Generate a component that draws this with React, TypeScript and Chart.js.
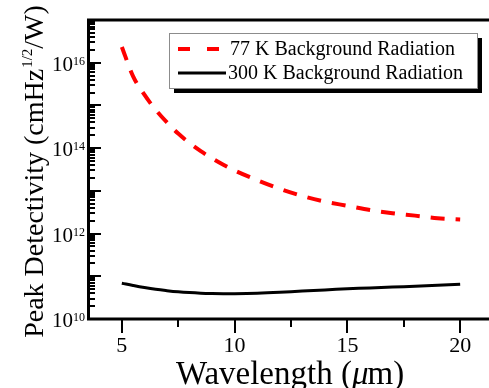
import React, { useEffect, useRef } from "react";
import { Chart, registerables } from "chart.js";

Chart.register(...registerables);

// ---- data ----
const wavelengths = [5, 5.5, 6, 6.5, 7, 7.5, 8, 8.5, 9, 9.5, 10, 11, 12, 13, 14, 15, 16, 17, 18, 19, 20];
const detectivity77K = [
  2.34e16, 4.8e15, 1.78e15, 7.9e14, 4.0e14, 2.19e14, 1.32e14, 8.5e13, 5.75e13, 4.07e13, 3.0e13,
  1.78e13, 1.12e13, 7.6e12, 5.6e12, 4.47e12, 3.55e12, 3.0e12, 2.63e12, 2.29e12, 2.14e12,
];
const detectivity300K = [
  6.9e10, 6.1e10, 5.45e10, 4.95e10, 4.6e10, 4.33e10, 4.15e10, 4.03e10, 3.96e10, 3.92e10, 3.92e10,
  4.02e10, 4.22e10, 4.5e10, 4.8e10, 5.08e10, 5.35e10, 5.6e10, 5.85e10, 6.15e10, 6.55e10,
];
const seriesLabels = ["77 K Background Radiation", "300 K Background Radiation"];
const xMajorTicks = [5, 10, 15, 20];
const xTickLabels = ["5", "10", "15", "20"];
const xMinorTicks = [7.5, 12.5, 17.5];
const yDecades = [10, 11, 12, 13, 14, 15, 16, 17];
const yLabelExponents = [10, 12, 14, 16];
const xTitle = ["Wavelength (", "\u03bc", "m)"];
const yTitle = ["Peak Detectivity (cmHz", "1/2", "/W)"];

const SERIF = '"Liberation Serif", "DejaVu Serif", serif';

const axesPlugin = {
  id: "customAxes",
  afterDraw(chart: any) {
    const { ctx, chartArea: a, scales } = chart;
    const xs = scales.x;
    const ys = scales.y;
    ctx.save();
    ctx.strokeStyle = "#000";
    ctx.fillStyle = "#000";
    ctx.setLineDash([]);

    // frame (left, bottom, top)
    ctx.lineWidth = 3;
    ctx.beginPath();
    ctx.moveTo(a.left + 0.5, a.top - 1.5);
    ctx.lineTo(a.left + 0.5, a.bottom + 1.5);
    ctx.moveTo(a.left - 1, a.bottom);
    ctx.lineTo(a.right + 10, a.bottom);
    ctx.moveTo(a.left - 1, a.top);
    ctx.lineTo(a.right + 10, a.top);
    ctx.stroke();

    // y ticks (inward)
    ctx.lineWidth = 2;
    ctx.beginPath();
    for (const d of yDecades) {
      const y = Math.round(ys.getPixelForValue(Math.pow(10, d)));
      if (d < 17) {
        ctx.moveTo(a.left, y);
        ctx.lineTo(a.left + 13, y);
        for (let m = 2; m <= 9; m++) {
          const ym = Math.round(ys.getPixelForValue(m * Math.pow(10, d)));
          ctx.moveTo(a.left, ym);
          ctx.lineTo(a.left + 7, ym);
        }
      }
    }
    ctx.stroke();

    // y labels 10^n
    for (const e of yLabelExponents) {
      const y = ys.getPixelForValue(Math.pow(10, e));
      ctx.font = `12px ${SERIF}`;
      const sup = String(e);
      const sw = ctx.measureText(sup).width;
      ctx.font = `21px ${SERIF}`;
      const bw = ctx.measureText("10").width;
      const right = a.left - 3;
      ctx.textAlign = "left";
      ctx.textBaseline = "alphabetic";
      ctx.fillText("10", right - sw - bw, y + 8);
      ctx.font = `12px ${SERIF}`;
      ctx.fillText(sup, right - sw, y + 2);
    }

    // x ticks (outward)
    ctx.lineWidth = 2;
    ctx.beginPath();
    for (const v of xMajorTicks) {
      const x = Math.round(xs.getPixelForValue(v));
      ctx.moveTo(x, a.bottom);
      ctx.lineTo(x, a.bottom + 14);
    }
    for (const v of xMinorTicks) {
      const x = Math.round(xs.getPixelForValue(v));
      ctx.moveTo(x, a.bottom);
      ctx.lineTo(x, a.bottom + 8);
    }
    ctx.stroke();

    ctx.font = `22px ${SERIF}`;
    ctx.textAlign = "center";
    ctx.textBaseline = "alphabetic";
    xMajorTicks.forEach((v, i) => {
      ctx.fillText(xTickLabels[i], xs.getPixelForValue(v), a.bottom + 33);
    });

    // x title
    ctx.textAlign = "left";
    const fN = `33px ${SERIF}`;
    const fI = `italic 33px ${SERIF}`;
    ctx.font = fN;
    const w0 = ctx.measureText(xTitle[0]).width;
    const w2 = ctx.measureText(xTitle[2]).width;
    ctx.font = fI;
    const w1 = ctx.measureText(xTitle[1]).width;
    const tw = w0 + w1 + w2;
    const x0 = 290.5 - tw / 2;
    const by = 384;
    ctx.font = fN;
    ctx.fillText(xTitle[0], x0, by);
    ctx.font = fI;
    ctx.fillText(xTitle[1], x0 + w0, by);
    ctx.font = fN;
    ctx.fillText(xTitle[2], x0 + w0 + w1 - 1, by);

    // y title (rotated)
    ctx.save();
    ctx.translate(43, 172);
    ctx.rotate(-Math.PI / 2);
    const yN = `28px ${SERIF}`;
    const yS = `15px ${SERIF}`;
    ctx.font = yN;
    const a0 = ctx.measureText(yTitle[0]).width;
    const a2 = ctx.measureText(yTitle[2]).width;
    ctx.font = yS;
    const a1 = ctx.measureText(yTitle[1]).width;
    const sx = -(a0 + a1 + a2) / 2;
    ctx.font = yN;
    ctx.fillText(yTitle[0], sx, 0);
    ctx.font = yS;
    ctx.fillText(yTitle[1], sx + a0 + 1, -11);
    ctx.font = yN;
    ctx.fillText(yTitle[2], sx + a0 + a1 + 1, 0);
    ctx.restore();

    // legend
    const ds = chart.data.datasets;
    const lx = 169, ly = 33, lw = 308, lh = 55;
    ctx.fillStyle = "#000";
    ctx.fillRect(lx + 5, ly + 5, lw, lh);
    ctx.fillStyle = "#fff";
    ctx.fillRect(lx, ly, lw, lh);
    ctx.strokeStyle = "#8c8c8c";
    ctx.lineWidth = 1;
    ctx.strokeRect(lx + 0.5, ly + 0.5, lw, lh);

    const rows = [49, 73];
    ds.forEach((d: any, i: number) => {
      const ry = rows[i];
      ctx.strokeStyle = d.borderColor;
      ctx.lineWidth = d.borderWidth;
      ctx.setLineDash(i === 0 ? [12, 17] : []);
      ctx.beginPath();
      ctx.moveTo(178, ry);
      ctx.lineTo(i === 0 ? 221 : 226, ry);
      ctx.stroke();
      ctx.setLineDash([]);
      ctx.fillStyle = "#000";
      ctx.font = `20px ${SERIF}`;
      ctx.textAlign = "left";
      ctx.textBaseline = "middle";
      ctx.fillText(d.label, i === 0 ? 230 : 228, ry + 1);
    });

    ctx.restore();
  },
};

export default function App() {
  const canvasRef = useRef<HTMLCanvasElement | null>(null);

  useEffect(() => {
    const canvas = canvasRef.current;
    if (!canvas) return;
    const chart = new Chart(canvas, {
      type: "line",
      data: {
        labels: wavelengths,
        datasets: [
          {
            label: seriesLabels[0],
            data: wavelengths.map((w, i) => ({ x: w, y: detectivity77K[i] })),
            borderColor: "#ff0000",
            borderWidth: 4,
            borderDash: [14, 11],
            borderCapStyle: "butt",
            pointRadius: 0,
            cubicInterpolationMode: "monotone",
            fill: false,
          },
          {
            label: seriesLabels[1],
            data: wavelengths.map((w, i) => ({ x: w, y: detectivity300K[i] })),
            borderColor: "#000000",
            borderWidth: 3,
            pointRadius: 0,
            tension: 0.4,
            fill: false,
          },
        ],
      },
      options: {
        responsive: false,
        animation: false,
        layout: { padding: { left: 88, top: 20, right: 6, bottom: 69 } },
        plugins: { legend: { display: false }, tooltip: { enabled: false } },
        scales: {
          x: { type: "linear", min: 3.5, max: 21.5, display: false },
          y: { type: "logarithmic", min: 1e10, max: 1e17, display: false },
        },
      },
      plugins: [axesPlugin],
    } as any);
    return () => chart.destroy();
  }, []);

  return (
    <div
      style={{
        position: "fixed",
        left: 0,
        top: 0,
        width: 489,
        height: 388,
        overflow: "hidden",
        background: "#fff",
      }}
    >
      <canvas ref={canvasRef} width={500} height={388} style={{ display: "block", width: 500, height: 388 }} />
    </div>
  );
}
